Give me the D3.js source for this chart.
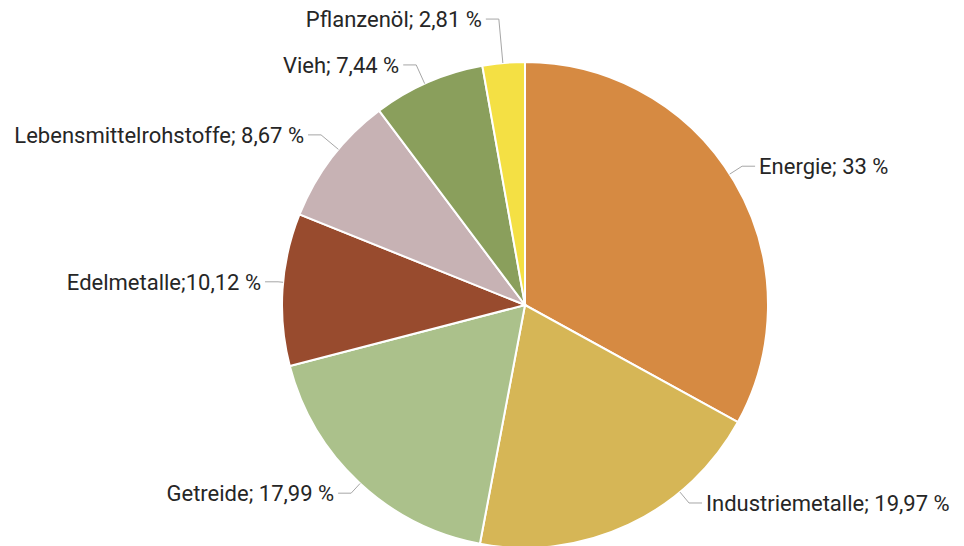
<!DOCTYPE html>
<html>
<head>
<meta charset="utf-8">
<script src="https://cdn.jsdelivr.net/npm/d3@7"></script>
<style>
  body { margin:0; background:#fff; }
  #plot { width:964px; height:546px; }
  text { font-family: Roboto, "Noto Sans", sans-serif; fill:#262626; }
</style>
</head>
<body>
<div id="plot"></div>
<script>
// data
var categories = ['Energie','Industriemetalle','Getreide','Edelmetalle','Lebensmittelrohstoffe','Vieh','Pflanzenöl'];
var shares = [33, 19.97, 17.99, 10.12, 8.67, 7.44, 2.81];
var shareLabels = ['33 %','19,97 %','17,99 %','10,12 %','8,67 %','7,44 %','2,81 %'];
var separators = ['; ','; ','; ',';','; ','; ','; '];
var colors = ['#d68a42','#d6b656','#abc18b','#984b2e','#c7b2b4','#8a9f5c','#f4e044'];

// label layout: where each label's leader starts, in polar form (deg from 12 o'clock, px from centre)
var labelAngle = [58.9, 138.2, 224.8, 275.1, 308.1, 333.1, 352.2];
var labelRadius = [268.7, 265.6, 265.2, 261, 275.7, 269.2, 288.6];

var width = 964, height = 546;
var cx = 525, cy = 305, r = 243;

var svg = d3.select('#plot').append('svg')
    .attr('width',width)
    .attr('height',height);

var plot = svg.append('g')
    .attr('transform','translate('+cx+','+cy+')');

var pie = d3.pie().sort(null).value(function(d){ return d; });
var arcs = pie(shares);
var arc = d3.arc().innerRadius(0).outerRadius(r);

plot.selectAll('path.slice')
    .data(arcs)
    .enter().append('path')
    .attr('class','slice')
    .attr('d',arc)
    .style('fill',function(d,i){ return colors[i]; })
    .style('stroke','#fff')
    .style('stroke-width',2);

function polar(a, rad){
    return [rad*Math.sin(a), -rad*Math.cos(a)];
}

var rad = Math.PI/180;
var elbowLen = 13;

arcs.forEach(function(d,i){
    var p = polar(labelAngle[i]*rad, labelRadius[i]);
    var right = p[0] > 0;
    var dir = right ? -1 : 1; // direction towards the pie
    var elbow = [p[0] + dir*elbowLen, p[1]];
    // nearest point of the slice's rim to the elbow
    var a = Math.atan2(elbow[0], -elbow[1]);
    if (a < 0) a += 2*Math.PI;
    var pad = 0.02;
    a = Math.max(d.startAngle+pad, Math.min(d.endAngle-pad, a));
    var edge = polar(a, r);

    plot.append('polyline')
        .attr('points',[p, elbow, edge].map(function(q){ return q.join(','); }).join(' '))
        .style('fill','none')
        .style('stroke','#a6a6a6')
        .style('stroke-width',1);

    plot.append('text')
        .attr('x', p[0] - dir*4)
        .attr('y', p[1])
        .attr('dy','0.35em')
        .attr('text-anchor', right ? 'start' : 'end')
        .style('font-size','22px')
        .text(categories[i] + separators[i] + shareLabels[i]);
});
</script>
</body>
</html>
